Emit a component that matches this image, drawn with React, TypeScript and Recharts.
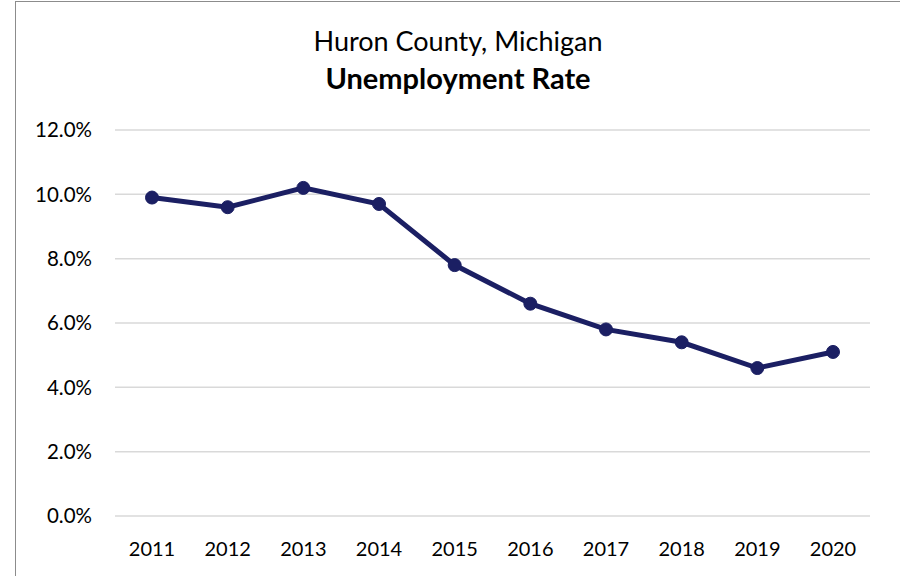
import { LineChart, Line, XAxis, YAxis, CartesianGrid } from 'recharts'

const years = ['2011', '2012', '2013', '2014', '2015', '2016', '2017', '2018', '2019', '2020']
const rates = [9.9, 9.6, 10.2, 9.7, 7.8, 6.6, 5.8, 5.4, 4.6, 5.1]
const yTicks = [0, 2, 4, 6, 8, 10, 12]

const chartData = years.map((year, i) => ({ year, rate: rates[i] }))

const font = 'Lato, "Open Sans", sans-serif'

export default function App() {
  return (
    <div
      style={{
        position: 'absolute',
        left: 0,
        top: 0,
        width: 900,
        height: 576,
        overflow: 'hidden',
        background: '#fff',
        fontFamily: font,
      }}
    >
      <div
        style={{
          position: 'absolute',
          left: 15,
          top: 1,
          width: 900,
          height: 600,
          borderLeft: '1px solid #8c8c8c',
          borderTop: '1px solid #8c8c8c',
        }}
      />
      <div
        style={{
          position: 'absolute',
          left: 0,
          width: 916,
          top: 24,
          textAlign: 'center',
          fontSize: 27,
          color: '#000',
        }}
      >
        Huron County, Michigan
      </div>
      <div
        style={{
          position: 'absolute',
          left: 0,
          width: 916,
          top: 60,
          textAlign: 'center',
          fontSize: 29,
          fontWeight: 'bold',
          color: '#000',
        }}
      >
        Unemployment Rate
      </div>
      <div style={{ position: 'absolute', left: 0, top: 0 }}>
        <LineChart
          width={900}
          height={576}
          data={chartData}
          margin={{ top: 130, right: 30, left: 0, bottom: 0 }}
        >
          <CartesianGrid vertical={false} stroke="#d9d9d9" strokeWidth={1.5} />
          <XAxis
            dataKey="year"
            height={60}
            padding={{ left: 37, right: 37 }}
            axisLine={false}
            tickLine={false}
            tickMargin={20}
            tick={{ fontSize: 20, fill: '#000', fontFamily: font }}
          />
          <YAxis
            domain={[0, 12]}
            ticks={yTicks}
            width={115}
            axisLine={false}
            tickLine={false}
            tickMargin={17}
            tickFormatter={(v) => `${Number(v).toFixed(1)}%`}
            tick={{ fontSize: 20.5, fill: '#000', fontFamily: font }}
          />
          <Line
            type="linear"
            dataKey="rate"
            stroke="#1b1f63"
            strokeWidth={5}
            dot={{ r: 6.5, fill: '#1b1f63', stroke: '#1b1f63', strokeWidth: 1 }}
            isAnimationActive={false}
          />
        </LineChart>
      </div>
    </div>
  )
}
